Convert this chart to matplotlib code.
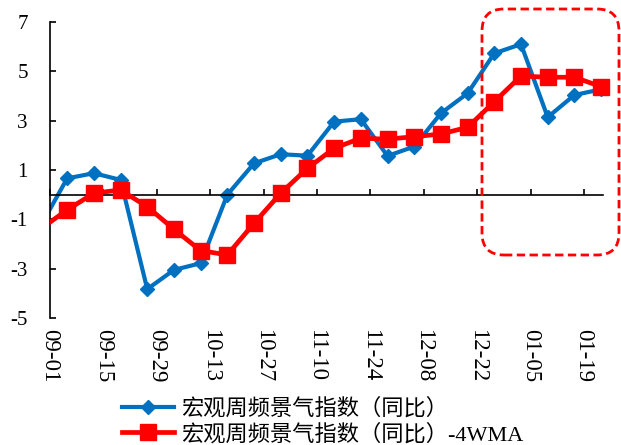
import pandas as pd
import matplotlib
matplotlib.use("Agg")
import matplotlib.pyplot as plt
import matplotlib.dates as mdates
from matplotlib.lines import Line2D
from matplotlib.patches import FancyBboxPatch
from matplotlib.transforms import IdentityTransform

plt.rcParams['font.family'] = ['Liberation Serif', 'Noto Sans CJK SC']
plt.rcParams['axes.unicode_minus'] = False

# weekly data, first point falls before the axis start
dates = pd.date_range("2022-08-29 12:00", periods=22, freq="7D")
index_yoy = [-1.28, 0.66, 0.87, 0.60, -3.83, -3.05, -2.78, 0.00, 1.27, 1.64, 1.58,
             2.96, 3.06, 1.57, 1.95, 3.30, 4.11, 5.73, 6.10, 3.14, 4.04, 4.27]
index_4wma = [-1.39, -0.62, 0.06, 0.19, -0.49, -1.40, -2.27, -2.44, -1.16, 0.06, 1.07,
              1.88, 2.29, 2.25, 2.35, 2.46, 2.73, 3.77, 4.81, 4.76, 4.76, 4.38]
tick_dates = pd.date_range("2022-09-01", periods=11, freq="14D")
label_blue = "宏观周频景气指数（同比）"
label_red = "宏观周频景气指数（同比）-4WMA"

BLUE = "#0070C0"
RED = "#FF0000"

fig = plt.figure(figsize=(6.21, 4.45), dpi=100)
ax = fig.add_axes([50 / 621, 1 - 318 / 445, 553 / 621, 296 / 445])

ax.plot(dates, index_yoy, color=BLUE, lw=3, zorder=2)
ax.plot(dates[1:], index_yoy[1:], ls="none", marker="D", ms=7.5, color=BLUE,
        clip_on=False, zorder=2)
ax.plot(dates, index_4wma, color=RED, lw=3.4, zorder=3)
ax.plot(dates[1:], index_4wma[1:], ls="none", marker="s", ms=11.5, color=RED,
        clip_on=False, zorder=3)

ax.set_xlim(pd.Timestamp("2022-09-01"), pd.Timestamp("2023-01-24"))
ax.set_ylim(-5, 7)
ax.set_yticks(range(-5, 8, 2))

ax.spines['top'].set_visible(False)
ax.spines['right'].set_visible(False)
ax.spines['bottom'].set_position(('data', 0))
ax.spines['left'].set_linewidth(1.2)
ax.spines['bottom'].set_linewidth(1.2)

ax.set_xticks(tick_dates)
ax.xaxis.set_major_formatter(mdates.DateFormatter("%m-%d"))
ax.tick_params(axis='x', direction='in', length=4, width=1.2, pad=97,
               labelsize=16.5, labelrotation=-90)
ax.tick_params(axis='y', direction='in', length=4.5, width=1.2, pad=16,
               labelsize=15)
for t in ax.get_xticklabels():
    t.set_va('top')

handles = [
    Line2D([], [], color=BLUE, lw=3, marker="D", ms=7.5),
    Line2D([], [], color=RED, lw=3.4, marker="s", ms=11.5),
]
fig.legend(handles, [label_blue, label_red], loc="upper left",
           bbox_to_anchor=(122 / 621, 1 - 398 / 445), frameon=False,
           fontsize=16, handlelength=2.35, handletextpad=0.3,
           labelspacing=0.2, borderaxespad=0, borderpad=0, numpoints=1)

box = FancyBboxPatch((482, 445 - 255), 137, 246,
                     boxstyle="round,pad=0,rounding_size=22",
                     transform=IdentityTransform(), fill=False,
                     edgecolor=RED, lw=2, ls=(0, (3, 1.6)))
fig.patches.append(box)

fig.savefig("out.png", dpi=100)
